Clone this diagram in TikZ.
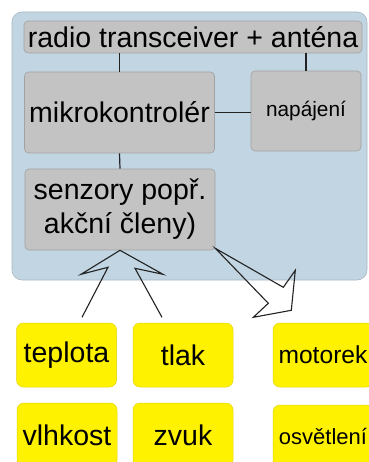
\documentclass[tikz,border=0pt]{standalone}
\usepackage{fontspec}
\setmainfont{Liberation Sans}
\usetikzlibrary{calc}
\definecolor{panelblue}{HTML}{C1D5E2}
\definecolor{panelline}{HTML}{A9B8C2}
\definecolor{boxgray}{HTML}{C3C3C3}
\definecolor{boxline}{HTML}{A2A2A2}
\definecolor{tagyellow}{HTML}{FFF200}
\definecolor{tagline}{HTML}{E2D400}
\definecolor{wire}{HTML}{222222}
\tikzset{
  block/.style={draw=boxline, fill=boxgray, rounded corners=4pt, line width=0.6pt,
    inner sep=0pt, align=center, text=black},
  tag/.style={draw=tagline, fill=tagyellow, rounded corners=7pt, line width=0.5pt,
    inner sep=0pt, minimum width=100pt, minimum height=64pt, text=black},
  wireline/.style={draw=wire, line width=1.2pt},
  openarrow/.style={draw=wire, line width=1.1pt, line join=miter, fill=none},
  big/.style={font=\fontsize{28.5}{34}\selectfont}
}
\begin{document}
\begin{tikzpicture}[x=1pt, y=-1pt]
\useasboundingbox (0,0) rectangle (368,462);

% enclosure of the node
\draw[fill=panelblue, draw=panelline, line width=0.6pt, rounded corners=10pt]
  (12,12) rectangle (367,280);

% blocks inside the node
\node[block, big, minimum width=338pt, minimum height=32pt] (radio) at (193,37)
  {radio transceiver + anténa};
\node[block, big, minimum width=190pt, minimum height=81pt] (mcu) at (119.5,112.5)
  {mikrokontrolér};
\node[block, font=\fontsize{20.8}{25}\selectfont, minimum width=110pt, minimum height=80pt]
  (power) at (306,111) {napájení};
\node[block, big, minimum width=190pt, minimum height=81pt] (sens) at (120,209.5)
  {senzory popř.\\akční členy)};

% internal wiring
\draw[wireline] (mcu.north) -- (mcu.north |- radio.south);
\draw[wireline] (power.north) -- (power.north |- radio.south);
\draw[wireline] (mcu.east) -- (mcu.east -| power.west);
\draw[wireline] (mcu.south) -- (sens.north);

% sensors and actuators
\node[tag, big] (temp) at (66.5,355) {teplota};
\node[tag, big] (press) at (183,355) {tlak};
\node[tag, font=\fontsize{24.6}{30}\selectfont] (motor) at (323,355) {motorek};
\node[tag, big] (humid) at (67,435) {vlhkost};
\node[tag, big] (sound) at (183,435) {zvuk};
\node[tag, font=\fontsize{22}{27}\selectfont] (light) at (323,437) {osvětlení};

% inputs: two open arrows meeting under the sensor block
\coordinate (apex) at (sens.south);
\draw[openarrow]
  ($(apex)+(-38,67)$) -- ($(apex)+(-12,17)$) -- ($(apex)+(-39,24)$) -- (apex)
  -- ($(apex)+(43,24)$) -- ($(apex)+(15,18)$) -- ($(apex)+(42,67)$);

% output: open arrow towards the actuators
\coordinate (out) at ($(sens.south east)+(0,-2)$);
\draw[openarrow]
  (out) -- ($(out)+(68,39)$) -- ($(out)+(80,22)$) -- ($(out)+(76,62)$)
  -- ($(out)+(38,69)$) -- ($(out)+(53,55)$) -- cycle;
\end{tikzpicture}
\end{document}
